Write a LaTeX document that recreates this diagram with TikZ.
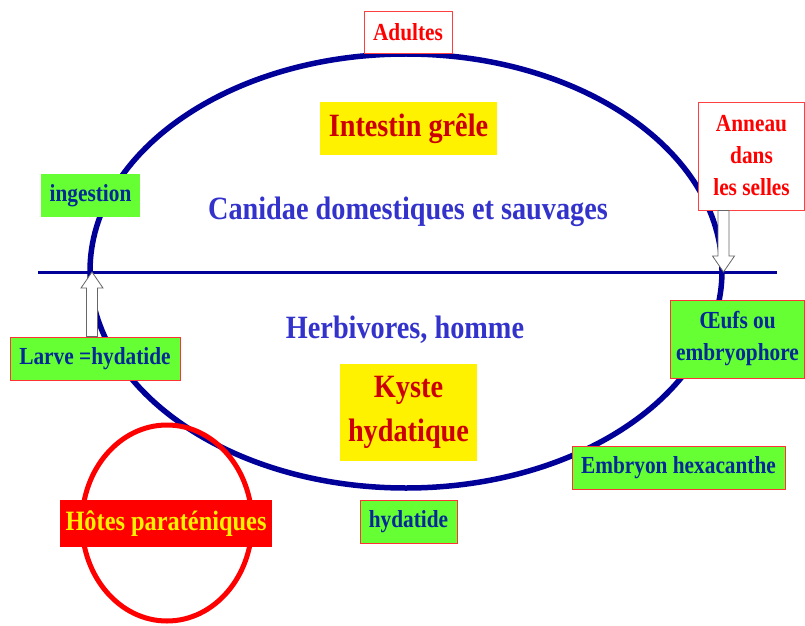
\documentclass[tikz,border=0pt]{standalone}
\usepackage{fontspec}
\setmainfont{Liberation Serif}[FakeStretch=0.87]
\usetikzlibrary{calc}

\definecolor{ringblue}{RGB}{0,0,153}
\definecolor{labelblue}{RGB}{0,40,150}
\definecolor{hostblue}{RGB}{51,51,204}
\definecolor{lime}{RGB}{102,255,51}
\definecolor{darkred}{RGB}{204,0,0}

\begin{document}
\begin{tikzpicture}[x=1pt,y=1pt,
    box/.style={inner sep=0pt,align=center,font=\fontsize{24.5}{32}\selectfont\bfseries},
    stage/.style={box,fill=lime,draw=red!80,line width=0.8pt,text=labelblue},
    note/.style={box,fill=white,draw=red!75,line width=0.8pt,text=red},
    site/.style={box,fill=yellow,text=darkred,font=\fontsize{32.5}{44}\selectfont\bfseries},
    host/.style={text=hostblue,font=\fontsize{32.5}{36}\selectfont\bfseries},
    hollow/.style={draw=gray!80!black,fill=white,line width=0.8pt,
      to path={let \p1=(\tikztostart),\p2=(\tikztotarget),\n1={sign(\y2-\y1)*16} in
        (\x1-5.5,\y1) -- (\x1-5.5,\y2-\n1) -- (\x1-11,\y2-\n1) -- (\x2,\y2)
        -- (\x1+11,\y2-\n1) -- (\x1+5.5,\y2-\n1) -- (\x1+5.5,\y1) -- cycle}}]
  \useasboundingbox (0,0) rectangle (805,625);

  % the cycle and the line between the two hosts
  \draw[ringblue,line width=5.5pt] (406,354) ellipse [x radius=316,y radius=217];
  \coordinate (take) at (92,353);
  \coordinate (drop) at (723.5,353);
  \draw[ringblue,line width=3pt] (38,353) -- (777,353);
  \draw[red,line width=5pt] (167,102) ellipse [x radius=85,y radius=98];

  \node[note,minimum width=88,minimum height=42]   (adultes)  at (408,593)     {Adultes};
  \node[site,minimum width=177,minimum height=53]  (intestin) at (408.5,496.5) {Intestin grêle};
  \node[host]                                      (canidae)  at (408,413)     {Canidae domestiques et sauvages};
  \node[stage,draw=none,minimum width=99,minimum height=43] (ingestion) at (90.5,429.5) {ingestion};
  \node[note,minimum width=106,minimum height=108] (anneau)   at (751.5,469)   {Anneau\\dans\\les selles};

  \node[stage,minimum width=170,minimum height=43] (larve)    at (95,266.5)    {Larve =hydatide};
  \node[host]                                      (herbi)    at (405,295)     {Herbivores, homme};
  \node[stage,minimum width=134,minimum height=78] (oeufs)    at (737.5,286)   {Œufs ou\\embryophore};
  \node[site,minimum width=137,minimum height=97]  (kyste)    at (408.5,212.5) {Kyste\\hydatique};
  \node[stage,minimum width=213,minimum height=43] (embryon)  at (678.5,157.5) {Embryon hexacanthe};
  \node[stage,minimum width=97,minimum height=43]  (hydatide) at (408.5,103.5) {hydatide};
  \node[box,fill=red,text=yellow,font=\fontsize{28}{34}\selectfont\bfseries,
        minimum width=212,minimum height=47]       (hotes)    at (166,101.5)   {Hôtes paraténiques};

  \path (anneau.south -| drop) edge[hollow] (drop)
        (larve.north -| take)  edge[hollow] (take);
\end{tikzpicture}
\end{document}
